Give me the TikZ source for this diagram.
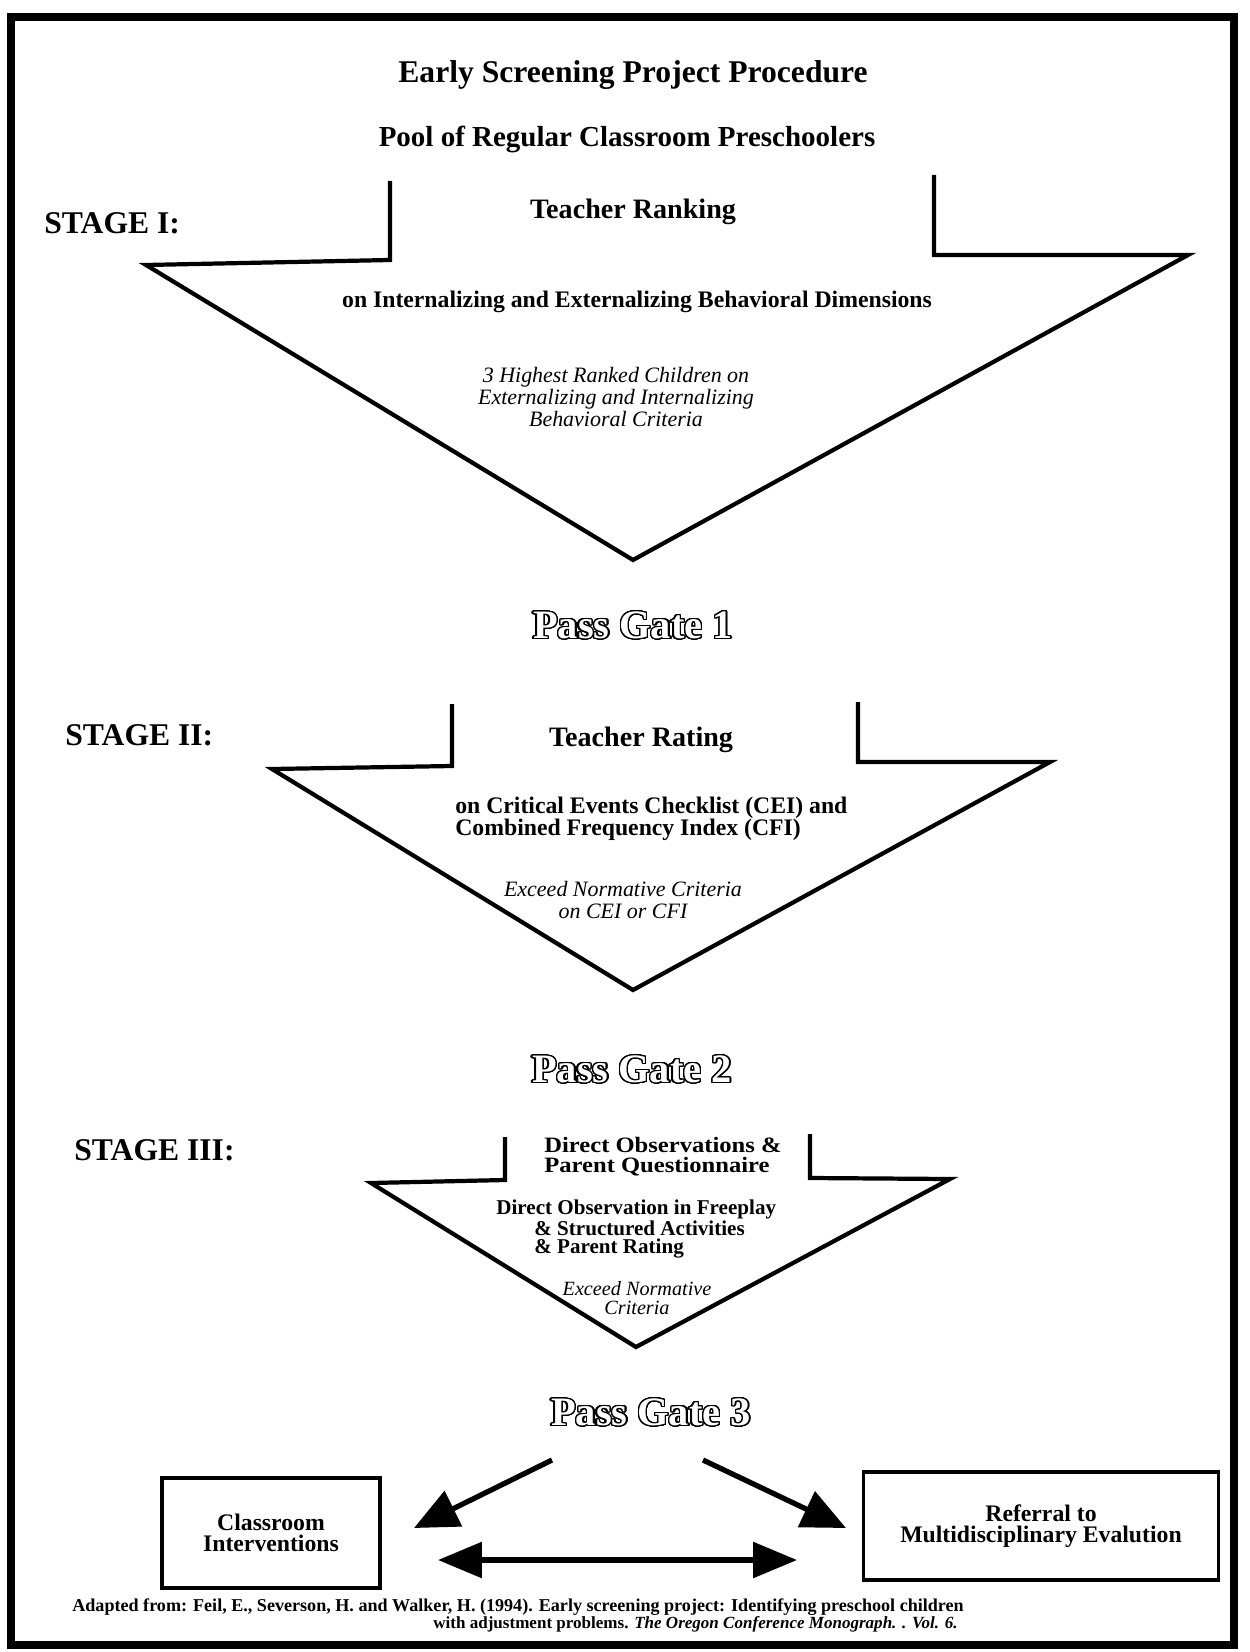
\documentclass[tikz,border=0pt]{standalone}
\usepackage{fontspec}
\setmainfont{Liberation Serif}
\usepackage[copies]{contour}
\usetikzlibrary{arrows.meta}
\contourlength{0.75pt}
\contournumber{32}

\begin{document}
\begin{tikzpicture}[x=0.02cm, y=-0.02cm, line join=miter,
	funnel/.style={line width=2.4pt},
	heading/.style={inner sep=0pt, font=\bfseries\fontsize{18}{20}\selectfont},
	stagelbl/.style={inner sep=0pt, anchor=west, font=\bfseries\fontsize{18}{20}\selectfont},
	method/.style={inner sep=0pt, font=\bfseries\fontsize{16}{18}\selectfont},
	detail/.style={inner sep=0pt, align=left, font=\bfseries\fontsize{13.5}{12.5}\selectfont},
	crit/.style={inner sep=0pt, align=center, font=\itshape\fontsize{12.5}{12.3}\selectfont},
	gatetxt/.style={inner sep=0pt, font=\bfseries\fontsize{23}{25}\selectfont},
	outbox/.style={draw, line width=2.2pt, align=center, font=\bfseries\fontsize{13.5}{12}\selectfont},
	bigarrow/.style={line width=3pt, -{Triangle[length=25pt,width=22pt]}},
	note/.style={inner sep=0pt, anchor=west, font=\bfseries\fontsize{9.7}{10}\selectfont}]
	\useasboundingbox (0,0) rectangle (1249,1652);
	%Cornice
	\draw [line width=5pt] (11,17) rectangle (1234,1645);
	%Titolo
	\node [heading] (title) at (633,75) {Early Screening Project Procedure};
	\node [heading, font=\bfseries\fontsize{16.5}{18}\selectfont] (pool) at (627,139) {Pool of Regular Classroom Preschoolers};
	%Stage I
	\node [stagelbl] (st1) at (44,223) {STAGE I:};
	\draw [funnel] (390,181) -- (390,260) -- (146,265) -- (633,560) -- (1188,255) -- (934,255) -- (934,175);
	\node [method] (rank) at (633,212) {Teacher Ranking};
	\node [detail] (dims) at (637,302) {on Internalizing and Externalizing Behavioral Dimensions};
	\node [crit] (crit1) at (616,397) {3 Highest Ranked Children on\\Externalizing and Internalizing\\Behavioral Criteria};
	\node [gatetxt] (gate1) at (633,626) {\color{white}\contour{black}{Pass Gate 1}};
	%Stage II
	\node [stagelbl] (st2) at (65,735) {STAGE II:};
	\draw [funnel] (452,704) -- (452,766) -- (272,769) -- (633,990) -- (1050,762) -- (858,762) -- (858,702);
	\node [method] (rate) at (641,740) {Teacher Rating};
	\node [detail, anchor=west] (cei) at (455,819) {on Critical Events Checklist (CEI) and\\Combined Frequency Index (CFI)};
	\node [crit] (crit2) at (623,900) {Exceed Normative Criteria\\on CEI or CFI};
	\node [gatetxt] (gate2) at (632,1070) {\color{white}\contour{black}{Pass Gate 2}};
	%Stage III
	\node [stagelbl] (st3) at (74,1150) {STAGE III:};
	\draw [funnel] (505,1137) -- (505,1180) -- (371,1183) -- (636,1347) -- (950,1179) -- (810,1178) -- (810,1134);
	\node [detail, anchor=west, font=\bfseries\fontsize{12.5}{11.3}\selectfont\addfontfeatures{FakeStretch=1.12}] (obs) at (544,1157) {Direct Observations \&\\Parent Questionnaire};
	\node [detail, anchor=west, font=\bfseries\fontsize{12}{10.5}\selectfont] (play) at (496,1229) {Direct Observation in Freeplay\\\hspace*{0.76cm}\& Structured Activities\\\hspace*{0.76cm}\& Parent Rating};
	\node [crit, font=\itshape\fontsize{11.5}{11}\selectfont] (crit3) at (637,1298) {Exceed Normative\\Criteria};
	\node [gatetxt] (gate3) at (651,1413) {\color{white}\contour{black}{Pass Gate 3}};
	%Esiti
	\node [outbox, minimum width=4.36cm, minimum height=2.2cm] (cls) at (271,1533) {Classroom\\Interventions};
	\node [outbox, minimum width=7.1cm, minimum height=2.16cm] (ref) at (1041,1526) {Referral to\\Multidisciplinary Evalution};
	\coordinate (g3l) at (552,1460);
	\coordinate (g3r) at (703,1460);
	\coordinate (clsin) at (414,1528);
	\coordinate (refin) at (846,1528);
	\coordinate (dbl) at (438,1560);
	\coordinate (dbr) at (797,1560);
	\draw [bigarrow] (g3l) -- (clsin);
	\draw [bigarrow] (g3r) -- (refin);
	\draw [line width=3pt, {Triangle[length=25pt,width=20pt]}-{Triangle[length=25pt,width=20pt]}] (dbl) -- (dbr);
	%Fonte
	\node [note, font=\bfseries\fontsize{10.3}{11}\selectfont] (src1) at (72,1607) {Adapted from: Feil, E., Severson, H. and Walker, H. (1994). Early screening project: Identifying preschool children};
	\node [note] (src2) at (433,1624) {with adjustment problems. \textit{The Oregon Conference Monograph. . Vol. 6.}};
\end{tikzpicture}
\end{document}
